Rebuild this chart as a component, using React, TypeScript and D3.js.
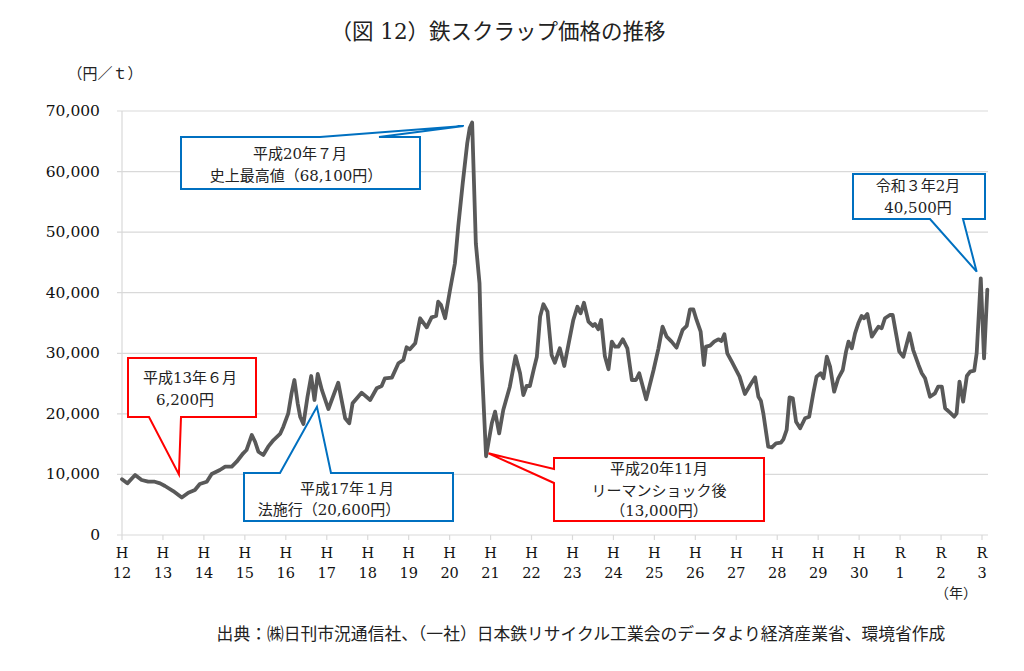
import { useMemo } from 'react'
import * as d3 from 'd3'

// years counted from H12 January, price in yen per tonne
const priceSeries: [number, number][] = [
  [0.0, 9200], [0.13, 8530], [0.32, 9900], [0.48, 9080], [0.64, 8800], [0.8, 8800], [0.93, 8530],
  [1.05, 8090], [1.25, 7260], [1.46, 6200], [1.62, 6990], [1.78, 7430], [1.9, 8420], [2.07, 8800],
  [2.19, 10070], [2.39, 10730], [2.52, 11280], [2.68, 11280], [2.8, 12100], [2.96, 13490], [3.04, 14030],
  [3.17, 16510], [3.25, 15400], [3.33, 13750], [3.45, 13210], [3.57, 14580], [3.7, 15680], [3.86, 16680],
  [3.94, 17880], [4.06, 20090], [4.14, 23390], [4.21, 25590], [4.29, 21740], [4.35, 19530], [4.43, 18330],
  [4.53, 22830], [4.62, 26250], [4.7, 22290], [4.78, 26580], [4.88, 23940], [5.04, 20800], [5.28, 25150],
  [5.45, 19270], [5.55, 18440], [5.63, 21740], [5.85, 23500], [6.06, 22290], [6.22, 24220], [6.34, 24600],
  [6.42, 25870], [6.59, 25980], [6.75, 28350], [6.87, 28900], [6.95, 30990], [7.03, 30660], [7.16, 31650],
  [7.28, 35780], [7.44, 34290], [7.56, 35940], [7.67, 36160], [7.72, 38520], [7.79, 37970], [7.89, 35780],
  [8.01, 40450], [8.13, 44860], [8.21, 50900], [8.32, 58070], [8.43, 64670], [8.49, 67200], [8.55, 68100],
  [8.64, 48160], [8.73, 41560], [8.78, 28900], [8.89, 13000], [9.03, 18440], [9.11, 20360], [9.21, 16790],
  [9.31, 20640], [9.47, 24490], [9.61, 29550], [9.72, 26700], [9.8, 23110], [9.88, 24600], [9.96, 24600],
  [10.06, 27520], [10.13, 29440], [10.21, 36050], [10.29, 38100], [10.39, 36870], [10.49, 29720], [10.57, 28450],
  [10.69, 30820], [10.8, 27900], [10.9, 31370], [11.02, 35500], [11.12, 37690], [11.2, 36600], [11.28, 38350],
  [11.39, 35220], [11.5, 34510], [11.55, 34840], [11.63, 33960], [11.7, 35500], [11.79, 29550], [11.88, 27360],
  [11.96, 31920], [12.04, 31090], [12.12, 31090], [12.23, 32310], [12.34, 30820], [12.45, 25590], [12.55, 25590],
  [12.63, 26700], [12.8, 22400], [12.98, 27240], [13.1, 30820], [13.2, 34390], [13.3, 32740], [13.42, 31920],
  [13.54, 30930], [13.69, 33850], [13.79, 34510], [13.87, 37260], [13.95, 37260], [14.03, 35500], [14.13, 33560],
  [14.21, 28070], [14.26, 31090], [14.36, 31250], [14.46, 31920], [14.56, 32310], [14.64, 32030], [14.71, 33130],
  [14.78, 30000], [14.89, 28610], [15.08, 26140], [15.21, 23280], [15.34, 24770], [15.46, 26040], [15.54, 22830],
  [15.6, 22180], [15.66, 20090], [15.78, 14580], [15.87, 14480], [15.97, 15140], [16.09, 15240], [16.15, 15800],
  [16.23, 17340], [16.3, 22730], [16.38, 22570], [16.46, 18710], [16.56, 17620], [16.68, 19270], [16.78, 19530],
  [16.88, 23390], [16.96, 26140], [17.06, 26700], [17.13, 25870], [17.21, 29440], [17.29, 27790], [17.39, 23660],
  [17.49, 25870], [17.6, 27240], [17.68, 30270], [17.74, 31920], [17.82, 30820], [17.9, 33300], [17.98, 34950],
  [18.06, 36160], [18.12, 35780], [18.2, 36490], [18.31, 32740], [18.39, 33570], [18.47, 34390], [18.55, 34130],
  [18.63, 35780], [18.75, 36320], [18.82, 36320], [18.9, 33300], [18.98, 30270], [19.08, 29440], [19.23, 33300],
  [19.32, 30540], [19.45, 28070], [19.53, 26700], [19.61, 25870], [19.73, 22830], [19.85, 23390], [19.93, 24490],
  [20.02, 24490], [20.1, 20920], [20.22, 20190], [20.32, 19530], [20.38, 20090], [20.45, 25310], [20.54, 22010],
  [20.63, 26250], [20.71, 26960], [20.81, 27130], [20.87, 30000], [20.97, 42380], [21.05, 29170], [21.13, 40500],
]

const yTicks = [0, 10000, 20000, 30000, 40000, 50000, 60000, 70000]
const eraLabels = ['H', 'H', 'H', 'H', 'H', 'H', 'H', 'H', 'H', 'H', 'H', 'H', 'H', 'H', 'H', 'H', 'H', 'H', 'H', 'R', 'R', 'R']
const yearLabels = ['12', '13', '14', '15', '16', '17', '18', '19', '20', '21', '22', '23', '24', '25', '26', '27', '28', '29', '30', '1', '2', '3']

type Callout = {
  color: string
  lines: string[]
  box: [number, number, number, number] // x0, y0, x1, y1 in px
  side: 'top' | 'bottom' | 'left'
  base: [number, number] // wedge base along the side, px
  target: [number, number] // wedge tip, in data units [year, yen]
  textX: number[]
  textY: number[]
}

const RED = '#ff0000'
const BLUE = '#0070c0'

const callouts: Callout[] = [
  {
    color: RED,
    lines: ['平成13年６月', '6,200円'],
    box: [128, 358, 256, 417],
    side: 'bottom',
    base: [149, 181],
    target: [1.39, 10000],
    textX: [190, 185],
    textY: [378, 400],
  },
  {
    color: BLUE,
    lines: ['平成17年１月', '法施行（20,600円）'],
    box: [244, 473, 453, 521],
    side: 'top',
    base: [280, 331],
    target: [4.76, 21180],
    textX: [347, 329],
    textY: [489, 510],
  },
  {
    color: BLUE,
    lines: ['平成20年７月', '史上最高値（68,100円）'],
    box: [181, 137, 420, 189],
    side: 'top',
    base: [320, 379],
    target: [8.34, 67530],
    textX: [300, 296],
    textY: [154, 176],
  },
  {
    color: RED,
    lines: ['平成20年11月', 'リーマンショック後', '（13,000円）'],
    box: [554, 458, 764, 521],
    side: 'left',
    base: [469, 483],
    target: [8.95, 13490],
    textX: [659, 659, 659],
    textY: [469, 491, 511],
  },
  {
    color: BLUE,
    lines: ['令和３年2月', '40,500円'],
    box: [853, 174, 985, 219],
    side: 'bottom',
    base: [930, 963],
    target: [20.87, 43470],
    textX: [918, 918],
    textY: [186, 208],
  },
]

const W = 1024
const H = 671
const plot = { left: 122, right: 982, top: 111, bottom: 535, gridLeft: 117, gridRight: 988 }
const serif = '"DejaVu Serif", "Noto Sans CJK JP", serif'
const cjk = '"Noto Sans CJK JP", "DejaVu Serif", sans-serif'

function calloutPath(c: Callout, tip: [number, number]): string {
  const [x0, y0, x1, y1] = c.box
  const [b0, b1] = c.base
  const [tx, ty] = tip
  if (c.side === 'top') {
    return `M${x0},${y0}L${b0},${y0}L${tx},${ty}L${b1},${y0}L${x1},${y0}L${x1},${y1}L${x0},${y1}Z`
  }
  if (c.side === 'bottom') {
    return `M${x0},${y0}L${x1},${y0}L${x1},${y1}L${b1},${y1}L${tx},${ty}L${b0},${y1}L${x0},${y1}Z`
  }
  return `M${x0},${y0}L${x1},${y0}L${x1},${y1}L${x0},${y1}L${x0},${b1}L${tx},${ty}L${x0},${b0}Z`
}

export default function App() {
  const scales = useMemo(() => {
    const xScale = d3.scaleLinear().domain([0, yearLabels.length - 1]).range([plot.left, plot.right])
    const yScale = d3.scaleLinear().domain([0, 70000]).range([plot.bottom, plot.top])
    const line = d3
      .line<[number, number]>()
      .x((d) => xScale(d[0]))
      .y((d) => yScale(d[1]))
    return { xScale, yScale, linePath: line(priceSeries) ?? '' }
  }, [])

  const { xScale, yScale, linePath } = scales
  const fmt = d3.format(',')

  return (
    <svg
      width={W}
      height={H}
      viewBox={`0 0 ${W} ${H}`}
      style={{ position: 'absolute', left: 0, top: 0, background: '#fff', display: 'block' }}
    >
      <rect x={0} y={0} width={W} height={H} fill="#fff" />

      <text x={498} y={31} textAnchor="middle" dominantBaseline="central" fontFamily={serif} fontSize={21.5} fill="#222">
        （図 12）鉄スクラップ価格の推移
      </text>
      <text x={105} y={72} textAnchor="middle" dominantBaseline="central" fontFamily={cjk} fontSize={15} fill="#222">
        （円／ｔ）
      </text>

      <g className="grid">
        {yTicks.slice(1).map((v) => (
          <line key={v} x1={plot.gridLeft} x2={plot.gridRight} y1={yScale(v)} y2={yScale(v)} stroke="#d9d9d9" strokeWidth={1.2} />
        ))}
      </g>

      <g className="yAxis">
        <line x1={plot.left} x2={plot.left} y1={plot.top} y2={plot.bottom} stroke="#d9d9d9" strokeWidth={1.2} />
        {yTicks.map((v) => (
          <text key={v} x={100} y={yScale(v)} textAnchor="end" dominantBaseline="central" fontFamily={serif} fontSize={15.5} fill="#111">
            {fmt(v)}
          </text>
        ))}
      </g>

      <g className="xAxis">
        <line x1={plot.gridLeft} x2={plot.gridRight} y1={plot.bottom} y2={plot.bottom} stroke="#d9d9d9" strokeWidth={1.2} />
        {yearLabels.map((label, i) => {
          const x = xScale(i)
          return (
            <g key={i}>
              <line x1={x} x2={x} y1={plot.bottom} y2={plot.bottom + 5} stroke="#d9d9d9" strokeWidth={1.2} />
              <text x={x} y={553} textAnchor="middle" dominantBaseline="central" fontFamily={serif} fontSize={14.5} fill="#111">
                {eraLabels[i]}
              </text>
              <text x={x} y={573} textAnchor="middle" dominantBaseline="central" fontFamily={serif} fontSize={14.5} fill="#111">
                {label}
              </text>
            </g>
          )
        })}
        <text x={956} y={592} textAnchor="middle" dominantBaseline="central" fontFamily={cjk} fontSize={14} fill="#222">
          （年）
        </text>
      </g>

      <path d={linePath} fill="none" stroke="#595959" strokeWidth={3.8} strokeLinejoin="round" strokeLinecap="round" />

      <g className="callouts">
        {callouts.map((c, i) => {
          const tip: [number, number] = [xScale(c.target[0]), yScale(c.target[1])]
          return (
            <g key={i}>
              <path d={calloutPath(c, tip)} fill="#fff" stroke={c.color} strokeWidth={2} strokeLinejoin="miter" />
              {c.lines.map((t, j) => (
                <text
                  key={j}
                  x={c.textX[j]}
                  y={c.textY[j]}
                  textAnchor="middle"
                  dominantBaseline="central"
                  fontFamily={serif}
                  fontSize={15}
                  fill="#222"
                >
                  {t}
                </text>
              ))}
            </g>
          )
        })}
      </g>

      <text x={581} y={633} textAnchor="middle" dominantBaseline="central" fontFamily={cjk} fontSize={16.8} fill="#222">
        出典：㈱日刊市況通信社、（一社）日本鉄リサイクル工業会のデータより経済産業省、環境省作成
      </text>
    </svg>
  )
}
